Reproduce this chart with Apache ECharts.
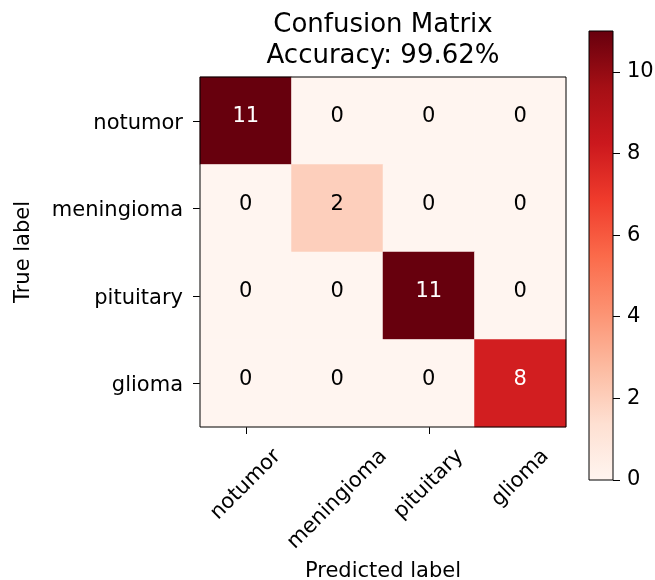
<!DOCTYPE html>
<html>
<head>
<meta charset="utf-8">
<script src="https://cdn.jsdelivr.net/npm/echarts@6/dist/echarts.min.js"></script>
<style>
  html, body { margin: 0; padding: 0; background: #fff; }
  #chart { width: 655px; height: 580px; }
</style>
</head>
<body>
<div id="chart"></div>
<script>
// Class names, in row/column order of the matrix
const CLASSES = ['notumor', 'meningioma', 'pituitary', 'glioma'];
// Confusion counts: rows = true label, columns = predicted label
const MATRIX = [
  [11, 0, 0, 0],
  [0, 2, 0, 0],
  [0, 0, 11, 0],
  [0, 0, 0, 8]
];
const ACCURACY = '99.62%';
// Colour scale range and colourbar tick values
const SCALE_MIN = 0;
const SCALE_MAX = 11;
const COLORBAR_TICKS = [0, 2, 4, 6, 8, 10];
// "Reds" sequential palette
const REDS = ['#fff5f0', '#fee0d2', '#fcbba1', '#fc9272', '#fb6a4a', '#ef3b2c', '#cb181d', '#a50f15', '#67000d'];

const FONT = 'DejaVu Sans';
const TICK_FS = 21;
const PLOT = { left: 200, top: 77, width: 366, height: 350 };

const measureCtx = document.createElement('canvas').getContext('2d');
measureCtx.font = TICK_FS + 'px "' + FONT + '"';
function textWidth(t) { return measureCtx.measureText(t).width; }

const cells = [];
MATRIX.forEach(function (row, r) {
  row.forEach(function (v, c) {
    cells.push({
      value: [c, r, v],
      label: { color: v > (SCALE_MAX + SCALE_MIN) / 2 ? '#ffffff' : '#000000' }
    });
  });
});

const chart = echarts.init(document.getElementById('chart'), null, { renderer: 'canvas' });

chart.setOption({
  backgroundColor: '#ffffff',
  animation: false,
  textStyle: { fontFamily: FONT },
  title: {
    text: 'Confusion Matrix\nAccuracy: ' + ACCURACY,
    left: 383,
    top: 10,
    padding: 0,
    textAlign: 'center',
    textStyle: { fontFamily: FONT, fontSize: 26, fontWeight: 'normal', color: '#000', lineHeight: 31 }
  },
  grid: [
    {
      left: PLOT.left, top: PLOT.top, width: PLOT.width, height: PLOT.height,
      outerBoundsMode: 'none', containLabel: false,
      show: true, borderColor: '#000', borderWidth: 1, z: 10
    },
    {
      left: 589, top: 31, width: 24, height: 449,
      outerBoundsMode: 'none', containLabel: false,
      show: true, borderColor: '#000', borderWidth: 1, z: 10
    }
  ],
  xAxis: [
    {
      gridIndex: 0,
      type: 'category',
      data: CLASSES,
      name: 'Predicted label',
      nameLocation: 'middle',
      nameGap: 134,
      nameTextStyle: { fontFamily: FONT, fontSize: TICK_FS, color: '#000' },
      axisLine: { show: false },
      axisTick: { show: true, alignWithLabel: true, length: 7, lineStyle: { color: '#000', width: 1 } },
      // tick labels are drawn rotated and centred under each tick (see below)
      axisLabel: { show: false },
      splitLine: { show: false }
    },
    {
      gridIndex: 1,
      type: 'category',
      data: ['scale'],
      show: false
    }
  ],
  yAxis: [
    {
      gridIndex: 0,
      type: 'category',
      data: CLASSES,
      inverse: true,
      name: 'True label',
      nameLocation: 'middle',
      nameRotate: 90,
      nameGap: 166,
      nameTextStyle: { fontFamily: FONT, fontSize: TICK_FS, color: '#000' },
      axisLine: { show: false },
      axisTick: { show: true, alignWithLabel: true, length: 7, lineStyle: { color: '#000', width: 1 } },
      axisLabel: {
        interval: 0, margin: 17, verticalAlign: 'top', lineHeight: 5,
        fontFamily: FONT, fontSize: TICK_FS, color: '#000'
      },
      splitLine: { show: false }
    },
    {
      gridIndex: 1,
      type: 'value',
      position: 'right',
      min: SCALE_MIN,
      max: SCALE_MAX,
      axisLine: { show: false },
      axisTick: { show: true, length: 7, customValues: COLORBAR_TICKS, lineStyle: { color: '#000', width: 1 } },
      axisLabel: { margin: 14, customValues: COLORBAR_TICKS, fontFamily: FONT, fontSize: TICK_FS, color: '#000' },
      splitLine: { show: false }
    }
  ],
  visualMap: {
    show: false,
    type: 'continuous',
    seriesIndex: 0,
    min: SCALE_MIN,
    max: SCALE_MAX,
    inRange: { color: REDS }
  },
  series: [
    {
      type: 'heatmap',
      xAxisIndex: 0,
      yAxisIndex: 0,
      data: cells,
      label: {
        show: true,
        fontFamily: FONT,
        fontSize: TICK_FS,
        offset: [0, -4],
        formatter: function (p) { return String(p.value[2]); }
      },
      emphasis: { disabled: true }
    },
    {
      // colourbar: one bar spanning the full scale, filled with the palette gradient
      type: 'bar',
      xAxisIndex: 1,
      yAxisIndex: 1,
      data: [SCALE_MAX],
      barWidth: '100%',
      silent: true,
      itemStyle: {
        color: new echarts.graphic.LinearGradient(0, 1, 0, 0,
          REDS.map(function (c, i) { return { offset: i / (REDS.length - 1), color: c }; }))
      }
    }
  ]
});

// Rotated x tick labels: each label's bounding box is centred on its tick,
// with the top of the box a fixed distance below the axis.
const axisBottom = PLOT.top + PLOT.height;
const LABEL_GAP = 26;
const xLabels = CLASSES.map(function (c) {
  const cx = chart.convertToPixel({ xAxisIndex: 0 }, c);
  const L = textWidth(c);
  return {
    type: 'text',
    x: cx,
    y: axisBottom + LABEL_GAP + L / (2 * Math.SQRT2),
    rotation: Math.PI / 4,
    silent: true,
    style: {
      text: c,
      font: TICK_FS + 'px "' + FONT + '"',
      fill: '#000',
      align: 'center',
      verticalAlign: 'middle',
      textAlign: 'center',
      textVerticalAlign: 'middle'
    }
  };
});
chart.setOption({ graphic: { elements: xLabels } });
</script>
</body>
</html>
